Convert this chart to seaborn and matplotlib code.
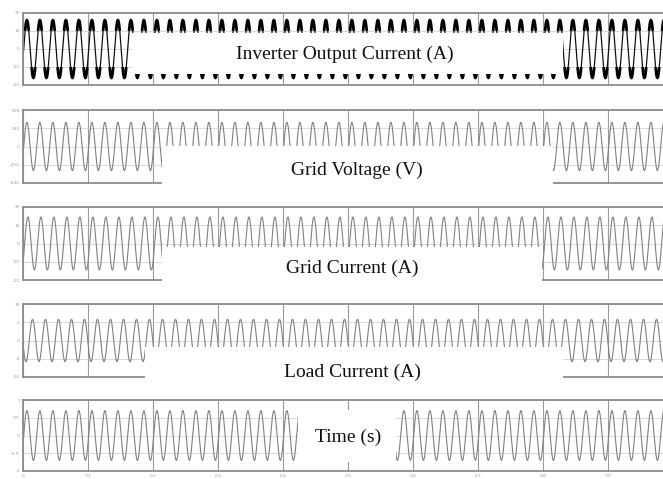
import numpy as np
import pandas as pd
import matplotlib
matplotlib.use("Agg")
import matplotlib.pyplot as plt
from matplotlib.patches import Rectangle
import seaborn as sns

# ---------------- data ----------------
panel_titles = ["Inverter Output Current (A)", "Grid Voltage (V)",
                "Grid Current (A)", "Load Current (A)", "Time (s)"]
freq_hz = 50.0
t_start, t_end = 0.0, 1.0
amplitudes = [16.0, 330.0, 14.5, 5.8, 0.7]
peak_time_s = [0.006, 0.006, 0.0075, 0.0146, 0.006]
y_limits = [(-20, 20), (-500, 500), (-20, 20), (-10, 10), (-1, 1)]
y_ticks = [[-20, -10, 0, 10, 20],
           [-500, -250, 0, 250, 500],
           [-20, -10, 0, 10, 20],
           [-10, -5, 0, 5, 10],
           [-1, -0.5, 0, 0.5, 1]]
x_ticks = [0.0, 0.1, 0.2, 0.3, 0.4, 0.5, 0.6, 0.7, 0.8, 0.9]
x_tick_labels = ["0", "0.1", "0.2", "0.3", "0.4", "0.5", "0.6", "0.7", "0.8", "0.9"]

# ---------------- layout (pixels of 663x479 figure) ----------------
W, H = 663, 479
ax_left_px, ax_right_px = 23, 673
panel_px = [(13, 85), (110, 183), (207, 280), (304, 377), (400, 471)]
box_px = [(132, 33, 563, 74), (162, 146, 553, 192), (162, 247, 542, 292),
          (145, 347, 563, 392), (298, 410, 396, 462)]
text_px = [(345, 54), (357, 170), (352, 268), (352, 372), (348, 437)]
line_colors = ["#111111", "#808080", "#808080", "#808080", "#808080"]

sns.set_style("white")
plt.rcParams["font.family"] = ["DejaVu Sans"]

fig = plt.figure(figsize=(W / 100, H / 100), dpi=100)

t = np.linspace(t_start, t_end, 24001)

for i in range(5):
    top, bot = panel_px[i]
    ax = fig.add_axes([ax_left_px / W, 1 - bot / H,
                       (ax_right_px - ax_left_px) / W, (bot - top) / H])
    y = amplitudes[i] * np.cos(2 * np.pi * freq_hz * (t - peak_time_s[i]))
    df = pd.DataFrame({"t": t, "y": y})
    sns.lineplot(data=df, x="t", y="y", ax=ax, color=line_colors[i],
                 lw=0.9 if i == 0 else 0.8, estimator=None, sort=False)
    if i == 0:
        # dense switching ripple near the peaks, drawn as heavy segments
        mask = np.abs(y) > 0.62 * amplitudes[i]
        seg = np.cumsum(np.r_[True, mask[1:] != mask[:-1]])
        dfp = pd.DataFrame({"t": t[mask], "y": y[mask], "seg": seg[mask]})
        sns.lineplot(data=dfp, x="t", y="y", units="seg", estimator=None,
                     ax=ax, color="#000000", lw=2.0, sort=False,
                     solid_capstyle="butt", solid_joinstyle="miter")
    ax.set_xlim(t_start, t_end)
    ax.set_ylim(*y_limits[i])
    ax.set_yticks(y_ticks[i])
    ax.set_yticklabels([str(v) for v in y_ticks[i]])
    ax.set_xticks(x_ticks)
    if i == 4:
        ax.set_xticklabels(x_tick_labels)
    else:
        ax.set_xticklabels([])
    ax.set_xlabel("")
    ax.set_ylabel("")
    ax.grid(True, axis="x", color="#9a9a9a", lw=0.8)
    ax.grid(True, axis="y", color="#d2d2d2", lw=0.6)
    ax.tick_params(axis="both", labelsize=3.2, labelcolor="#9a9a9a",
                   length=1.5, color="#9a9a9a", pad=0.8)
    for s in ax.spines.values():
        s.set_color("#8c8c8c")
        s.set_linewidth(1.3)

    # white label box with caption
    x0, y0, x1, y1 = box_px[i]
    fig.patches.append(Rectangle((x0 / W, 1 - y1 / H), (x1 - x0) / W, (y1 - y0) / H,
                                 transform=fig.transFigure, facecolor="white",
                                 edgecolor="none", zorder=10))
    tx, ty = text_px[i]
    fig.text(tx / W, 1 - ty / H, panel_titles[i], ha="center", va="center",
             fontsize=14, family=["Liberation Serif", "DejaVu Serif"],
             color="#111111", zorder=11)

fig.savefig("out.png", dpi=100)
